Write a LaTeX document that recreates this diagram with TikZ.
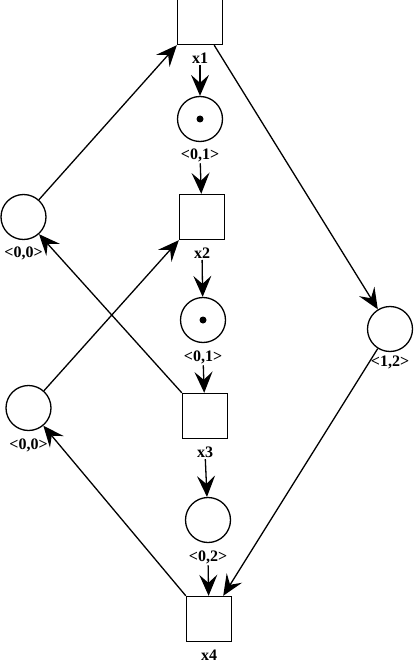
\documentclass[tikz,border=0pt]{standalone}
\usepackage{fontspec}
\setmainfont{Liberation Serif}
\usetikzlibrary{arrows.meta}
\tikzset{trans/.style={draw, minimum size=45pt, inner sep=0pt, line width=1.4pt},
 place/.style={draw, circle, minimum size=45pt, inner sep=0pt, line width=1.3pt},
 token/.style={circle, fill, minimum size=7pt, inner sep=0pt},
 lbl/.style={font=\bfseries\fontsize{16}{16}\selectfont, inner sep=1.5pt},
 arc/.style={line width=1.3pt, -{Stealth[length=21pt,width=18pt,inset=8pt]}},
 }

\begin{document}
\begin{tikzpicture}[x=1pt,y=-1pt]
        \useasboundingbox (0,0) rectangle (413,663);
        % transitions
        \foreach \n/\x/\y in {x1/200/22, x2/202/217, x3/205/416, x4/209/619} {
            \node[trans] (\n) at (\x,\y) {};
            \node[lbl] (l\n) at (\x,\y+36) {\n};
        }
        % places
        \foreach \n/\x/\y/\d/\t in {p1/200/119/36/{<0,1>}, p2/203/320/37/{<0,1>}, p3/208/520/37/{<0,2>},
                pa/23.5/217/36/{<0,0>}, pb/28.5/408/37/{<0,0>}, pc/390/329/33/{<1,2>}} {
            \node[place] (\n) at (\x,\y) {};
            \node[lbl] (l\n) at (\x,\y+\d) {\t};
        }
        \node[token] (t1) at (p1) {};
        \node[token] (t2) at (p2) {};
        % arcs
        \draw[arc] (lx1) -- (p1);
        \draw[arc] (lp1) -- (x2);
        \draw[arc] (lx2) -- (p2);
        \draw[arc] (lp2) -- (x3);
        \draw[arc] (lx3) -- (p3);
        \draw[arc] (lp3) -- (x4);
        \draw[arc] (pa) -- (x1.south west);
        \draw[arc] (x3.north west) -- (pa);
        \draw[arc] (pb) -- (x2.south west);
        \draw[arc] (x4.north west) -- (pb);
        \draw[arc] ([xshift=-9pt]x1.south east) -- (pc);
        \draw[arc] (pc) -- ([xshift=-9pt]x4.north east);
    \end{tikzpicture}
\end{document}
